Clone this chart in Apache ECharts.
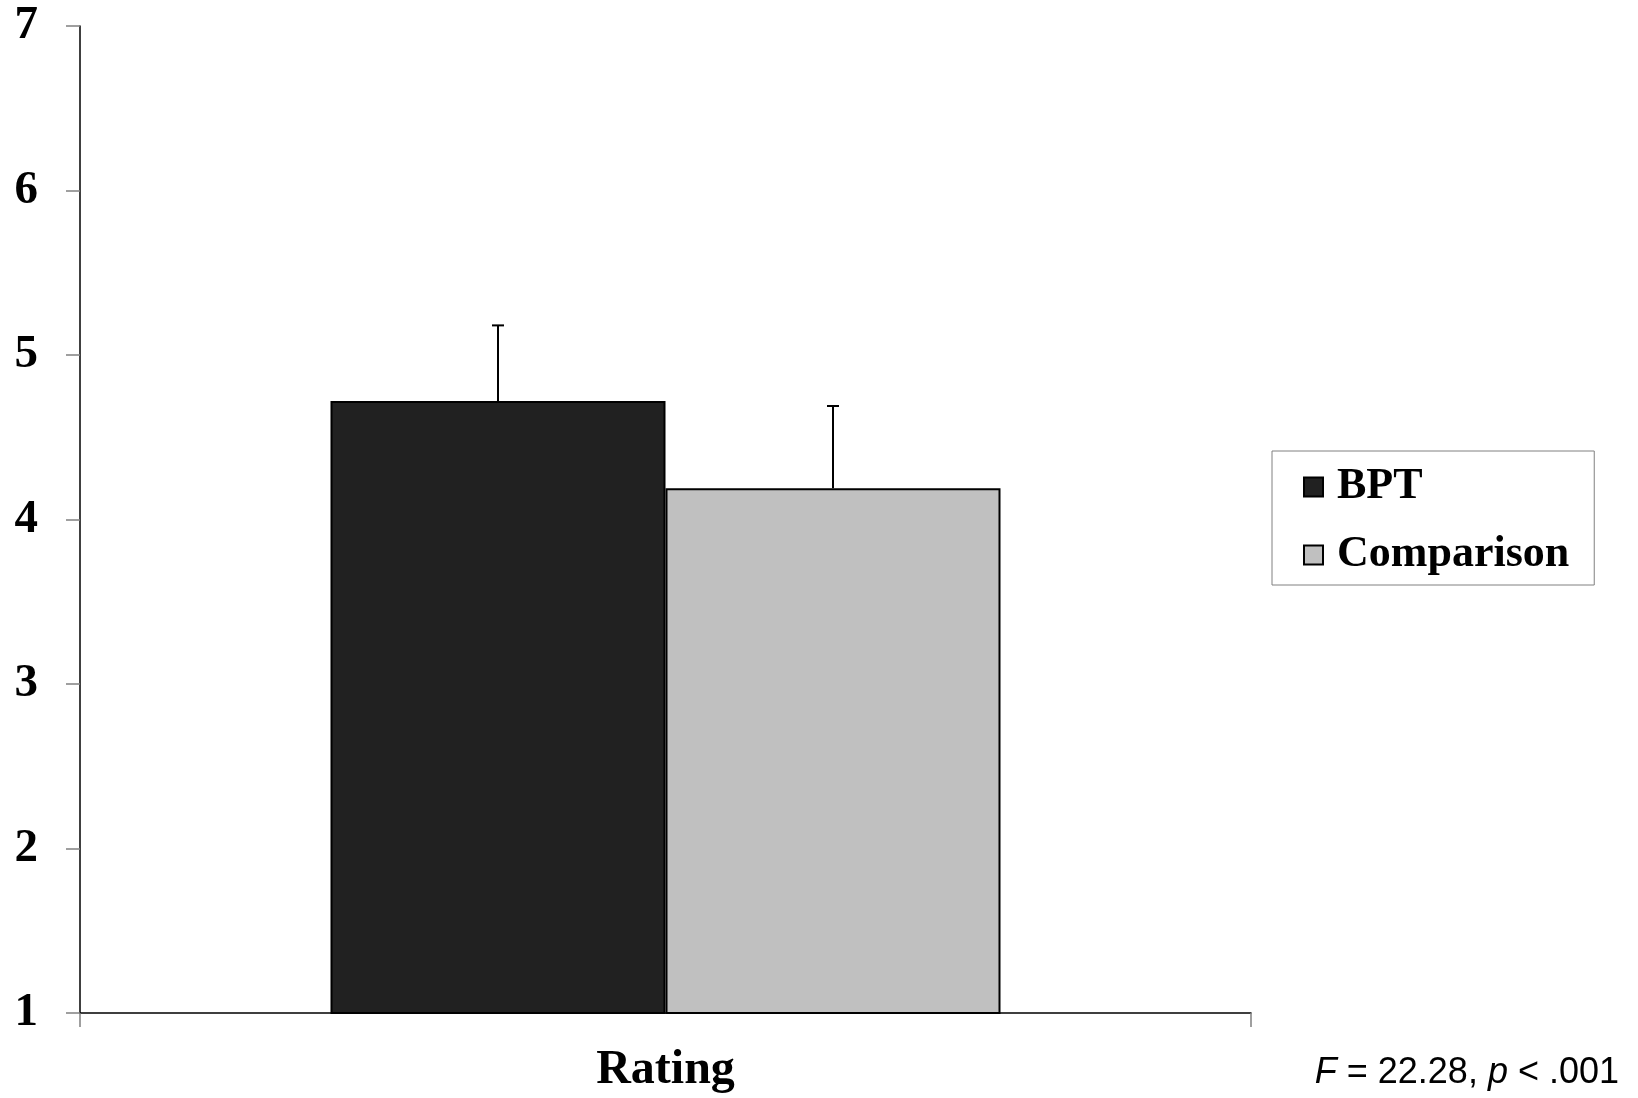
<!DOCTYPE html>
<html>
<head>
<meta charset="utf-8">
<script src="https://cdn.jsdelivr.net/npm/echarts@6/dist/echarts.min.js"></script>
<style>html,body{margin:0;padding:0;background:#fff}#c{width:1638px;height:1098px}</style>
</head>
<body>
<div id="c"></div>
<script>
var categories = ['Rating'];
var seriesNames = ['BPT', 'Comparison'];
var bptValues = [4.72];
var comparisonValues = [4.19];
var bptUpper = [5.18];
var comparisonUpper = [4.69];
var yTicks = [1, 2, 3, 4, 5, 6, 7];
var statText = ['F', ' = 22.28, ', 'p', ' < .001'];

var chart = echarts.init(document.getElementById('c'));
var BAR_W = 335;
var serif = '"Liberation Serif", "Times New Roman", serif';

function errorSeries(name, values, upper, offset) {
  var data = values.map(function (v, i) { return [i, v, upper[i]]; });
  return {
    type: 'custom',
    name: name + ' err',
    data: data,
    z: 5,
    silent: true,
    renderItem: function (params, api) {
      var p0 = api.coord([api.value(0), api.value(1)]);
      var p1 = api.coord([api.value(0), api.value(2)]);
      var x = p0[0] + offset;
      var style = { stroke: '#000', lineWidth: 2 };
      return {
        type: 'group',
        children: [
          { type: 'line', shape: { x1: x, y1: p0[1], x2: x, y2: p1[1] }, style: style },
          { type: 'line', shape: { x1: x - 6, y1: p1[1], x2: x + 6, y2: p1[1] }, style: style }
        ]
      };
    }
  };
}

chart.setOption({
  animation: false,
  backgroundColor: '#fff',
  grid: { left: 80, top: 26, right: 387, bottom: 85 },
  legend: {
    data: seriesNames,
    orient: 'vertical',
    left: 1272,
    top: 451,
    icon: 'rect',
    itemWidth: 19,
    itemHeight: 19,
    itemGap: 24,
    padding: [14, 25, 8, 31],
    borderColor: '#808080',
    borderWidth: 1,
    textStyle: { fontFamily: serif, fontWeight: 'bold', fontSize: 44, color: '#000', padding: [0, 0, 0, 9] }
  },
  xAxis: {
    type: 'category',
    data: categories,
    axisLine: { lineStyle: { color: '#000', width: 1.5 } },
    axisTick: { show: true, length: 14, lineStyle: { color: '#808080', width: 1.5 } },
    axisLabel: { fontFamily: serif, fontWeight: 'bold', fontSize: 48, color: '#000', margin: 34 }
  },
  yAxis: {
    type: 'value',
    min: yTicks[0],
    max: yTicks[yTicks.length - 1],
    interval: 1,
    splitLine: { show: false },
    axisLine: { show: true, lineStyle: { color: '#000', width: 1.5 } },
    axisTick: { show: true, length: 14, lineStyle: { color: '#808080', width: 1.5 } },
    axisLabel: { fontFamily: serif, fontWeight: 'bold', fontSize: 47, color: '#000', margin: 42 }
  },
  graphic: [{
    type: 'text',
    right: 1638 - 1619,
    top: 1055,
    style: {
      text: '{i|' + statText[0] + '}{n|' + statText[1] + '}{i|' + statText[2] + '}{n|' + statText[3] + '}',
      rich: {
        i: { fontFamily: '"Liberation Sans", Arial, sans-serif', fontStyle: 'italic', fontSize: 36, fill: '#000' },
        n: { fontFamily: '"Liberation Sans", Arial, sans-serif', fontSize: 36, fill: '#000' }
      }
    }
  }],
  series: [
    {
      type: 'bar', name: seriesNames[0], data: bptValues, barWidth: BAR_W, barGap: '0%',
      itemStyle: { color: '#212121', borderColor: '#000', borderWidth: 2 }
    },
    {
      type: 'bar', name: seriesNames[1], data: comparisonValues, barWidth: BAR_W, barGap: '0%',
      itemStyle: { color: '#c0c0c0', borderColor: '#000', borderWidth: 2 }
    },
    errorSeries('BPT', bptValues, bptUpper, -BAR_W / 2),
    errorSeries('Comparison', comparisonValues, comparisonUpper, BAR_W / 2)
  ]
});
</script>
</body>
</html>
